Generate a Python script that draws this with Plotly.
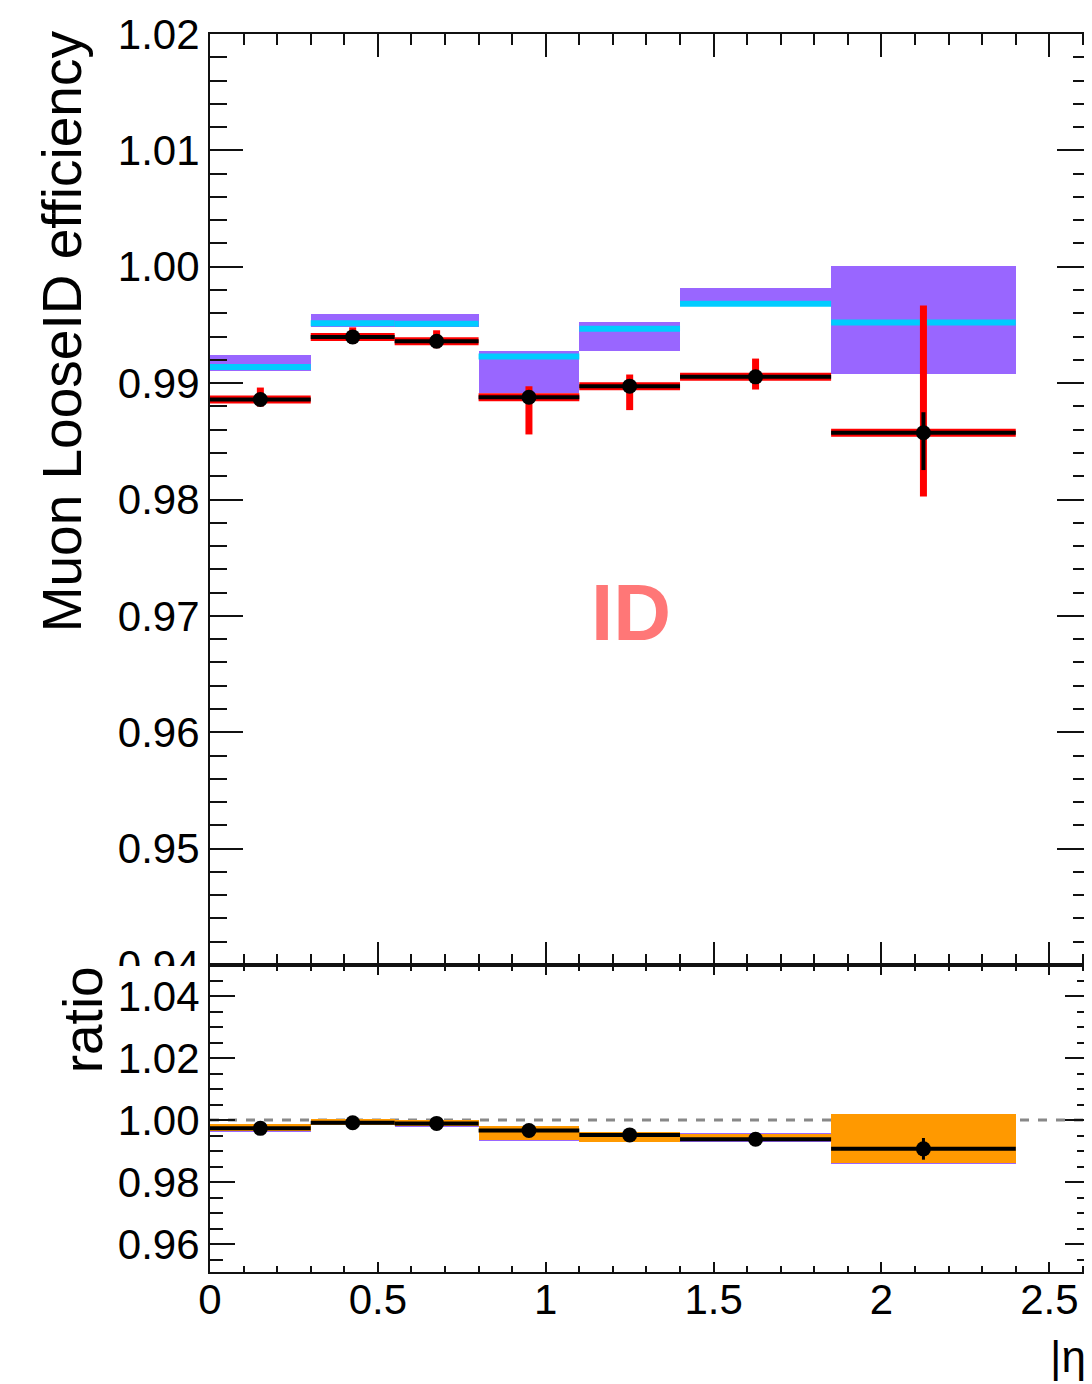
import plotly.graph_objects as go

# ---------------- data ----------------
edges = [0.0, 0.3, 0.55, 0.8, 1.1, 1.4, 1.85, 2.4]

data_eff = [0.98859, 0.99397, 0.99360, 0.98879, 0.98974, 0.99054, 0.98573]
data_tot_up = [0.00103, 0.00082, 0.00094, 0.00094, 0.00100, 0.00157, 0.01093]
data_tot_dn = [0.00060, 0.00060, 0.00060, 0.00320, 0.00206, 0.00109, 0.00548]
data_stat_up = [0.00030, 0.00030, 0.00030, 0.00040, 0.00040, 0.00050, 0.00177]
data_stat_dn = [0.00030, 0.00030, 0.00030, 0.00040, 0.00040, 0.00050, 0.00320]

mc_eff = [0.99138, 0.99515, 0.99511, 0.99228, 0.99467, 0.99683, 0.99522]
mc_band_lo = [0.99108, 0.99485, 0.99485, 0.98917, 0.99280, 0.99666, 0.99080]
mc_band_hi = [0.99245, 0.99597, 0.99597, 0.99280, 0.99522, 0.99817, 1.00009]

ratio = [0.9973, 0.9991, 0.9989, 0.9966, 0.9952, 0.9938, 0.9907]
ratio_err = [0.0003, 0.0003, 0.0003, 0.0003, 0.0003, 0.0003, 0.0035]
ratio_band_lo = [0.9965, 0.9985, 0.9981, 0.9934, 0.9930, 0.9932, 0.9861]
ratio_band_hi = [0.9987, 1.0002, 1.0000, 0.9981, 0.9962, 0.9955, 1.0018]
ratio_mc_lo = [0.9961, 0.9983, 0.9979, 0.9933, 0.9928, 0.9929, 0.9857]
ratio_mc_hi = [0.9987, 1.0002, 1.0000, 0.9982, 0.9962, 0.9959, 1.0018]

y_ticks_top = [0.94, 0.95, 0.96, 0.97, 0.98, 0.99, 1.00, 1.01, 1.02]
y_ticks_ratio = [0.96, 0.98, 1.00, 1.02, 1.04]
x_ticks = [0, 0.5, 1, 1.5, 2, 2.5]
x_tick_text = ["0", "0.5", "1", "1.5", "2", "2.5"]

# ---------------- derived ----------------
centers = [(a + b) / 2 for a, b in zip(edges[:-1], edges[1:])]
widths = [b - a for a, b in zip(edges[:-1], edges[1:])]


def steps(vals):
    xs, ys = [], []
    for a, b, v in zip(edges[:-1], edges[1:], vals):
        xs += [a, b, None]
        ys += [v, v, None]
    return xs, ys


PURPLE = "#9966FF"
CYAN = "#00CCFF"
RED = "#FF0000"
ORANGE = "#FF9900"
FONT = "Liberation Sans, Arial, sans-serif"

OFF = 8  # page body margin
W, H = 1092 - OFF, 1384 - OFF
# target pixel positions in the screenshot
FL, FR, FT, FB = 210, 1092, 34, 1272
L, R, T, B = FL - OFF, 0, FT - OFF, 1384 - FB
PW, PH = FR - FL, FB - FT
SPLIT = 965  # pixel y of boundary between panels
XMAX = PW / 336.5


def px_x(px):
    return (px - FL) / PW


def px_y(py):
    return (FB - py) / PH


lower_top = px_y(SPLIT)

fig = go.Figure()

# ---- upper panel ----
fig.add_trace(go.Bar(
    x=centers, y=[h - l for h, l in zip(mc_band_hi, mc_band_lo)], base=mc_band_lo,
    width=widths, marker=dict(color=PURPLE, line=dict(width=0)),
    xaxis="x2", yaxis="y2", showlegend=False, hoverinfo="skip"))
xs, ys = steps(mc_eff)
fig.add_trace(go.Scatter(x=xs, y=ys, mode="lines", line=dict(color=CYAN, width=6),
                         xaxis="x2", yaxis="y2", showlegend=False))
# red total error bars
fig.add_trace(go.Scatter(
    x=centers, y=data_eff, mode="markers",
    marker=dict(size=1, color="rgba(0,0,0,0)"),
    error_y=dict(type="data", symmetric=False, array=data_tot_up, arrayminus=data_tot_dn,
                 color=RED, thickness=7, width=0),
    xaxis="x2", yaxis="y2", showlegend=False))
xs, ys = steps(data_eff)
fig.add_trace(go.Scatter(x=xs, y=ys, mode="lines", line=dict(color=RED, width=8),
                         xaxis="x2", yaxis="y2", showlegend=False))
fig.add_trace(go.Scatter(x=xs, y=ys, mode="lines", line=dict(color="black", width=4),
                         xaxis="x2", yaxis="y2", showlegend=False))
fig.add_trace(go.Scatter(
    x=centers, y=data_eff, mode="markers",
    marker=dict(size=15, color="black"),
    error_y=dict(type="data", symmetric=False, array=data_stat_up, arrayminus=data_stat_dn,
                 color="black", thickness=4, width=0),
    xaxis="x2", yaxis="y2", showlegend=False))

# ---- ratio panel ----
fig.add_shape(type="line", xref="x", yref="y", x0=0, x1=XMAX, y0=1.0, y1=1.0,
              line=dict(color="#888888", width=3, dash="dash"), layer="below")
fig.add_trace(go.Bar(
    x=centers, y=[h - l for h, l in zip(ratio_mc_hi, ratio_mc_lo)], base=ratio_mc_lo,
    width=widths, marker=dict(color=PURPLE, line=dict(width=0)),
    xaxis="x", yaxis="y", showlegend=False, hoverinfo="skip"))
fig.add_trace(go.Bar(
    x=centers, y=[h - l for h, l in zip(ratio_band_hi, ratio_band_lo)], base=ratio_band_lo,
    width=widths, marker=dict(color=ORANGE, line=dict(width=0)),
    xaxis="x", yaxis="y", showlegend=False, hoverinfo="skip"))
xs, ys = steps(ratio)
fig.add_trace(go.Scatter(x=xs, y=ys, mode="lines", line=dict(color="black", width=4),
                         xaxis="x", yaxis="y", showlegend=False))
fig.add_trace(go.Scatter(
    x=centers, y=ratio, mode="markers", marker=dict(size=15, color="black"),
    error_y=dict(type="data", array=ratio_err, color="black", thickness=3, width=0),
    xaxis="x", yaxis="y", showlegend=False))

axis_common = dict(showline=True, linecolor="#111111", linewidth=2, mirror="allticks",
                   ticks="inside", tickcolor="#111111", tickwidth=2, showgrid=False,
                   zeroline=False, tickfont=dict(family=FONT, size=42, color="black"))

fig.update_layout(
    width=W, height=H, margin=dict(l=L, r=R, t=T, b=B),
    paper_bgcolor="white", plot_bgcolor="white", barmode="overlay", bargap=0,
    xaxis=dict(domain=[0, 1], range=[0, XMAX], anchor="y",
               tickvals=x_ticks, ticktext=x_tick_text, ticklen=10, ticklabelstandoff=-10,
               minor=dict(dtick=0.1, ticklen=6, ticks="inside", tickcolor="#111111", tickwidth=2),
               **axis_common),
    xaxis2=dict(domain=[0, 1], range=[0, XMAX], anchor="y2", matches="x",
                tickvals=x_ticks, showticklabels=False, ticklen=23,
                minor=dict(dtick=0.1, ticklen=11, ticks="inside", tickcolor="#111111", tickwidth=2),
                **axis_common),
    yaxis=dict(domain=[0, lower_top], range=[1 - 152 / 3100, 1.05], anchor="x",
               tickvals=y_ticks_ratio, tickformat=".2f", ticklen=25,
               minor=dict(dtick=0.005, ticklen=13, ticks="inside", tickcolor="#111111", tickwidth=2),
               **axis_common),
    yaxis2=dict(domain=[lower_top, 1], range=[0.94, 1.02], anchor="x2",
                tickvals=y_ticks_top, tickformat=".2f", ticklen=33,
                minor=dict(dtick=0.002, ticklen=17, ticks="inside", tickcolor="#111111", tickwidth=2),
                **axis_common),
)

# cut the 0.94 label like the pad boundary does
fig.add_shape(type="rect", xref="paper", yref="paper",
              x0=px_x(110), x1=px_x(206), y0=px_y(982), y1=px_y(SPLIT + 1),
              fillcolor="white", line=dict(width=0), layer="above")

fig.add_annotation(text="Muon LooseID efficiency", textangle=-90, xref="paper", yref="paper",
                   x=px_x(62), y=px_y(331), xanchor="center", yanchor="middle", showarrow=False,
                   font=dict(family=FONT, size=55, color="black"))
fig.add_annotation(text="ratio", textangle=-90, xref="paper", yref="paper",
                   x=px_x(83), y=px_y(1020), xanchor="center", yanchor="middle", showarrow=False,
                   font=dict(family=FONT, size=55, color="black"))
fig.add_annotation(text="<b>ID</b>", xref="paper", yref="paper",
                   x=px_x(632), y=px_y(612), xanchor="center", yanchor="middle", showarrow=False,
                   font=dict(family=FONT, size=80, color="#FF7777"))
fig.add_annotation(text="|η|", xref="paper", yref="paper",
                   x=px_x(1050), y=px_y(1356), xanchor="left", yanchor="middle", showarrow=False,
                   font=dict(family=FONT, size=44, color="black"))

fig.write_html("out.html")
